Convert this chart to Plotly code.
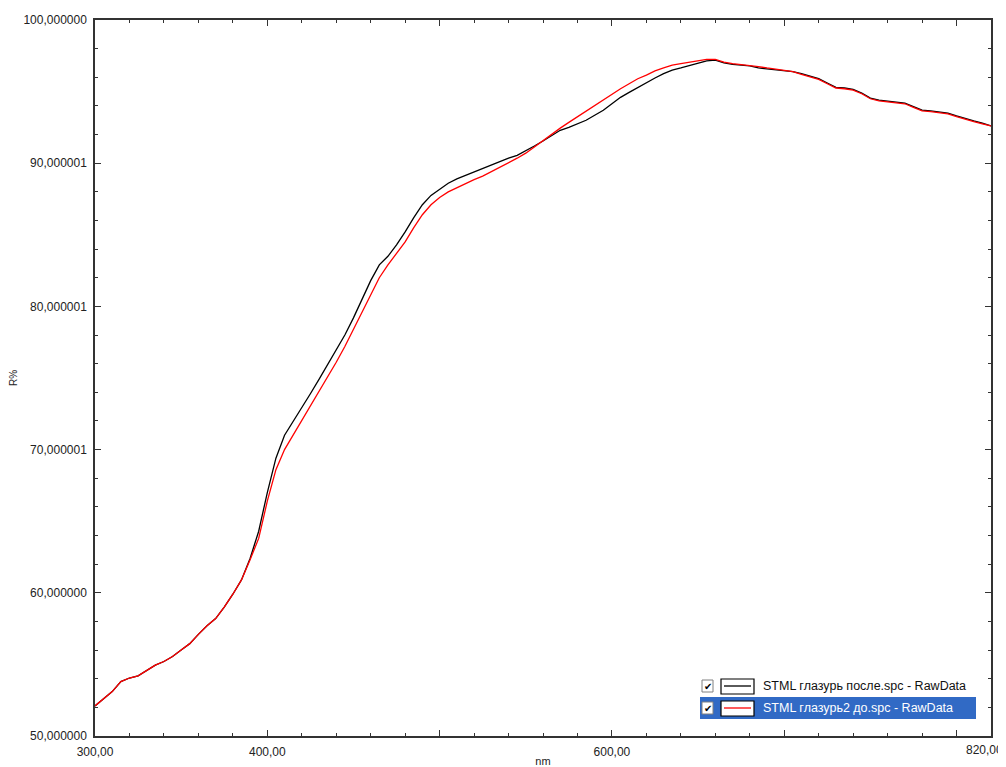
import plotly.graph_objects as go

wavelength = [300, 305, 310, 315, 320, 325, 330, 335, 340, 345, 350, 355, 360, 365, 370, 375, 380, 385,
              390, 395, 400, 405, 410, 415, 420, 425, 430, 435, 440, 445, 450, 455, 460, 465, 470, 475,
              480, 485, 490, 495, 500, 505, 510, 515, 520, 525, 530, 535, 540, 545, 550, 555, 560, 565,
              570, 575, 580, 585, 590, 595, 600, 605, 610, 615, 620, 625, 630, 635, 640, 645, 650, 655,
              660, 665, 670, 675, 680, 685, 690, 695, 700, 705, 710, 715, 720, 725, 730, 735, 740, 745,
              750, 755, 760, 765, 770, 775, 780, 785, 790, 795, 800, 805, 810, 815, 820]

r_after = [52.1, 52.6, 53.1, 53.8, 54.05, 54.2, 54.6, 54.95, 55.2, 55.55, 56.0, 56.45, 57.1, 57.7, 58.2,
           59.0, 59.9, 60.9, 62.4, 64.3, 67.0, 69.4, 71.0, 72.0, 72.9, 73.9, 74.9, 75.9, 77.0, 78.0,
           79.2, 80.5, 81.8, 82.9, 83.5, 84.3, 85.2, 86.2, 87.1, 87.75, 88.2, 88.6, 88.9, 89.15, 89.4,
           89.6, 89.9, 90.1, 90.35, 90.55, 90.85, 91.2, 91.55, 91.95, 92.3, 92.5, 92.75, 93.0, 93.35,
           93.7, 94.15, 94.6, 94.95, 95.3, 95.65, 95.95, 96.25, 96.5, 96.65, 96.8, 97.0, 97.15, 97.2,
           97.0, 96.9, 96.85, 96.8, 96.65, 96.6, 96.55, 96.5, 96.4, 96.25, 96.1, 95.9, 95.6, 95.3,
           95.25, 95.15, 94.9, 94.55, 94.4, 94.35, 94.3, 94.2, 93.95, 93.7, 93.65, 93.6, 93.5, 93.3,
           93.1, 92.95, 92.8, 92.6]

r_before = [52.1, 52.6, 53.1, 53.8, 54.05, 54.2, 54.6, 54.95, 55.2, 55.55, 56.0, 56.45, 57.1, 57.7, 58.2,
            59.0, 59.9, 60.9, 62.3, 63.8, 66.4, 68.6, 70.0, 71.0, 72.0, 73.0, 74.0, 75.0, 76.1, 77.2,
            78.4, 79.6, 80.9, 82.0, 82.9, 83.7, 84.5, 85.5, 86.4, 87.1, 87.6, 88.0, 88.3, 88.6, 88.85,
            89.1, 89.4, 89.7, 90.0, 90.35, 90.7, 91.15, 91.6, 92.05, 92.45, 92.85, 93.25, 93.65, 94.05,
            94.45, 94.85, 95.2, 95.55, 95.9, 96.15, 96.45, 96.65, 96.85, 96.95, 97.05, 97.15, 97.25,
            97.25, 97.05, 96.95, 96.9, 96.85, 96.75, 96.65, 96.55, 96.5, 96.4, 96.2, 96.05, 95.85,
            95.55, 95.25, 95.2, 95.1, 94.85, 94.5, 94.35, 94.3, 94.25, 94.15, 93.9, 93.65, 93.6, 93.55,
            93.45, 93.25, 93.05, 92.9, 92.75, 92.6]

series_names = ["STML глазурь после.spc - RawData", "STML глазурь2 до.spc - RawData"]
series_colors = ["#000000", "#ff0000"]

x_tickvals = [300, 400, 500, 600, 700, 800, 820]
x_ticktext = ["300,00", "400,00", "", "600,00", "", "", ""]
x_end_label = "820,00"
y_tickvals = [50, 60, 70, 80, 90, 100]
y_ticktext = ["50,000000", "60,000000", "70,000001", "80,000001", "90,000001", "100,000000"]

# page has an 8px body margin; figure sized to fill the 1006x767 window
W, H = 998, 759
L, R, T, B = 87, 15, 12, 31
PW, PH = W - L - R, H - T - B
OFF = 8


def px(x):
    return (x - OFF - L) / PW


def py(y):
    return (OFF + H - B - y) / PH


FONT = "Liberation Sans, Arial, sans-serif"

fig = go.Figure()
for vals, name, col in zip([r_after, r_before], series_names, series_colors):
    fig.add_trace(go.Scatter(x=wavelength, y=vals, mode="lines", name=name,
                             line=dict(color=col, width=1.3), showlegend=False))

axis_common = dict(showline=True, linecolor="#333333", linewidth=1.5, mirror="ticks",
                   ticks="inside", tickcolor="#333333", ticklen=6, tickwidth=1,
                   showgrid=False, zeroline=False,
                   tickfont=dict(family=FONT, size=12, color="#222222"))

fig.update_xaxes(range=[300, 820], tickmode="array", tickvals=x_tickvals, ticktext=x_ticktext,
                 minor=dict(dtick=20, tick0=300, ticks="inside", ticklen=3, tickcolor="#333333", showgrid=False),
                 title=dict(text="nm", standoff=22, font=dict(family=FONT, size=11, color="#222222")),
                 ticklabelstandoff=4,
                 **axis_common)
fig.update_yaxes(range=[50, 100], tickmode="array", tickvals=y_tickvals, ticktext=y_ticktext,
                 minor=dict(dtick=2, tick0=50, ticks="inside", ticklen=3, tickcolor="#333333", showgrid=False),
                 title=dict(text="R%", standoff=12, font=dict(family=FONT, size=10, color="#222222")),
                 ticklabelstandoff=4,
                 **axis_common)

shapes = []
annotations = [dict(xref="paper", yref="paper", x=px(1005), y=py(750), text=x_end_label,
                    showarrow=False, xanchor="right", yanchor="middle",
                    font=dict(family=FONT, size=12, color="#222222"))]
# Custom legend rows (row 2 highlighted)
rows = [(686, False), (708, True)]
for (cy, sel), name, col in zip(rows, series_names, series_colors):
    if sel:
        shapes.append(dict(type="rect", xref="paper", yref="paper",
                           x0=px(700), x1=px(976), y0=py(719), y1=py(697),
                           fillcolor="#316ac5", line=dict(width=0), layer="above"))
    shapes.append(dict(type="rect", xref="paper", yref="paper",
                       x0=px(702), x1=px(713), y0=py(cy + 6), y1=py(cy - 6),
                       fillcolor="white", line=dict(color="#808080", width=1), layer="above"))
    annotations.append(dict(xref="paper", yref="paper", x=px(707.5), y=py(cy), text="<b>✔</b>",
                            showarrow=False, font=dict(family="DejaVu Sans", size=10, color="black"),
                            xanchor="center", yanchor="middle"))
    shapes.append(dict(type="rect", xref="paper", yref="paper",
                       x0=px(721), x1=px(754), y0=py(cy + 8), y1=py(cy - 7),
                       fillcolor="white", line=dict(color="#000000", width=1.2), layer="above"))
    shapes.append(dict(type="line", xref="paper", yref="paper",
                       x0=px(724), x1=px(751), y0=py(cy), y1=py(cy),
                       line=dict(color=col, width=1.3), layer="above"))
    annotations.append(dict(xref="paper", yref="paper", x=px(761), y=py(cy), text=name,
                            showarrow=False, xanchor="left", yanchor="middle",
                            font=dict(family=FONT, size=12.5, color="white" if sel else "#111111")))

fig.update_layout(width=W, height=H, margin=dict(l=L, r=R, t=T, b=B, autoexpand=False),
                  paper_bgcolor="white", plot_bgcolor="white",
                  shapes=shapes, annotations=annotations, showlegend=False)

fig.write_html("out.html")
